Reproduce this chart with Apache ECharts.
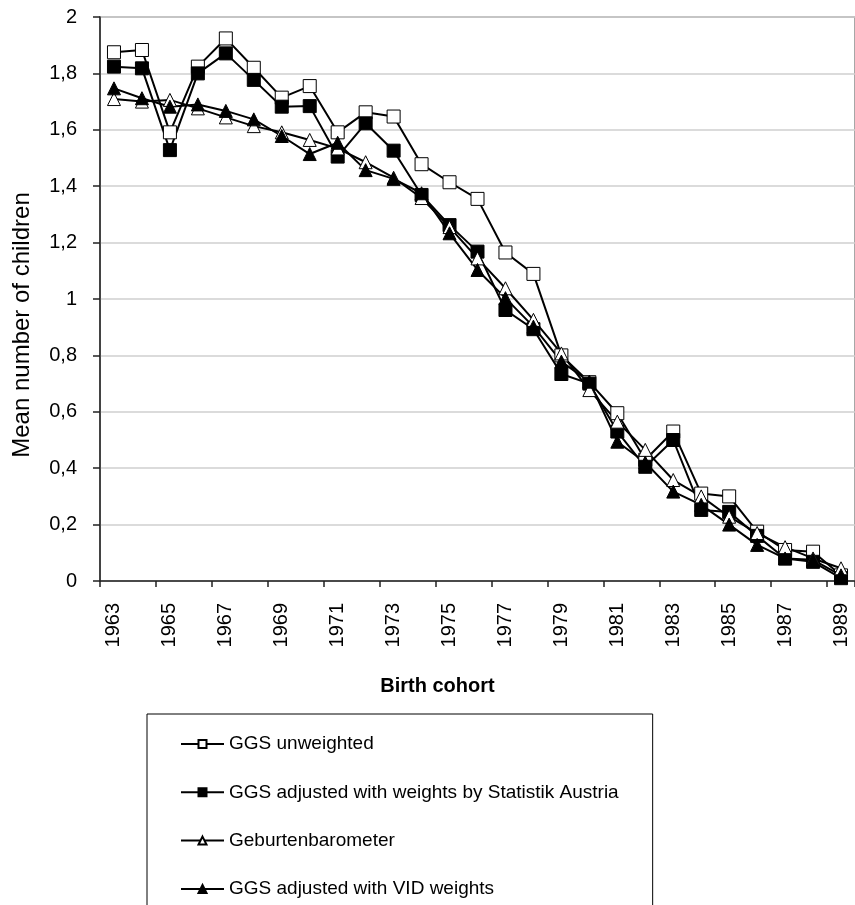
<!DOCTYPE html>
<html>
<head>
<meta charset="utf-8">
<script src="https://cdn.jsdelivr.net/npm/echarts@6/dist/echarts.min.js"></script>
<style>
html,body{margin:0;padding:0;background:#fff;}
#chart{width:855px;height:905px;}
</style>
</head>
<body>
<div id="chart"></div>
<script>
var years = ['1963','1964','1965','1966','1967','1968','1969','1970','1971','1972','1973','1974','1975','1976','1977','1978','1979','1980','1981','1982','1983','1984','1985','1986','1987','1988','1989'];
var ggsUnweighted = [1.875,1.883,1.591,1.824,1.924,1.82,1.714,1.755,1.591,1.662,1.647,1.478,1.414,1.355,1.165,1.089,0.80,0.705,0.595,0.43,0.53,0.31,0.30,0.175,0.11,0.104,0.02];
var ggsStatistik = [1.824,1.818,1.528,1.80,1.871,1.777,1.682,1.684,1.505,1.623,1.526,1.369,1.262,1.168,0.961,0.893,0.734,0.70,0.53,0.405,0.50,0.252,0.245,0.16,0.08,0.068,0.01];
var geburtenbarometer = [1.709,1.70,1.706,1.676,1.644,1.613,1.591,1.564,1.534,1.485,1.43,1.358,1.255,1.144,1.038,0.926,0.807,0.677,0.565,0.465,0.358,0.30,0.228,0.17,0.12,0.08,0.045];
var ggsVid = [1.747,1.712,1.682,1.69,1.667,1.637,1.578,1.514,1.554,1.457,1.426,1.375,1.233,1.103,1.003,0.902,0.778,0.707,0.494,0.42,0.317,0.27,0.20,0.128,0.08,0.075,0.02];
var seriesNames = ['GGS unweighted','GGS adjusted with weights by Statistik Austria','Geburtenbarometer','GGS adjusted with VID weights'];

var FONT = '"Liberation Sans", Arial, sans-serif';
var chart = echarts.init(document.getElementById('chart'), null, {renderer:'canvas'});

function mk(name, data, symbol, fill){
  return {
    name: name, type: 'line', data: data,
    symbol: symbol, symbolSize: 13,
    lineStyle: {color:'#000', width:2},
    itemStyle: {color: fill, borderColor:'#000', borderWidth:1},
    animation: false
  };
}

chart.setOption({
  backgroundColor: '#fff',
  animation: false,
  grid: {left:100, top:17, width:764, height:564, show:true, borderColor:'#8a8a8a', borderWidth:1.5, backgroundColor:'transparent'},
  xAxis: {
    type:'category', data: years, boundaryGap:true,
    name:'Birth cohort', nameLocation:'middle', nameGap:95,
    nameTextStyle:{fontFamily:FONT, fontSize:20, fontWeight:'bold', color:'#000', padding:[0,80,0,0]},
    axisLine:{lineStyle:{color:'#222', width:1.5}},
    axisTick:{show:true, length:6, alignWithLabel:false, lineStyle:{color:'#222', width:1.5}},
    axisLabel:{rotate:90, interval:1, margin:22, fontFamily:FONT, fontSize:20, color:'#000'},
    splitLine:{show:false}
  },
  yAxis: {
    type:'value', min:0, max:2, interval:0.2,
    name:'Mean number of children', nameLocation:'middle', nameGap:66, nameRotate:90,
    nameTextStyle:{fontFamily:FONT, fontSize:24, color:'#000', padding:[0,52,0,0]},
    axisLine:{show:true, lineStyle:{color:'#222', width:1.5}},
    axisTick:{show:true, length:7, lineStyle:{color:'#222', width:1.5}},
    axisLabel:{margin:23, fontFamily:FONT, fontSize:20, color:'#000',
      formatter:function(v){ return String(Number(v.toFixed(1))).replace('.', ','); }},
    splitLine:{show:true, lineStyle:{color:'#cfcfcf', width:1.5}}
  },
  legend: {
    orient:'vertical', left:147, top:714, height:600,
    padding:[20.5,34,40,33],
    itemGap:29.3, itemWidth:43, itemHeight:10,
    borderColor:'#000', borderWidth:1, backgroundColor:'#fff',
    textStyle:{fontFamily:FONT, fontSize:19, color:'#000'},
    data: seriesNames
  },
  series: [
    mk(seriesNames[0], ggsUnweighted, 'rect', '#fff'),
    mk(seriesNames[1], ggsStatistik, 'rect', '#000'),
    mk(seriesNames[2], geburtenbarometer, 'triangle', '#fff'),
    mk(seriesNames[3], ggsVid, 'triangle', '#000')
  ]
});
</script>
</body>
</html>
